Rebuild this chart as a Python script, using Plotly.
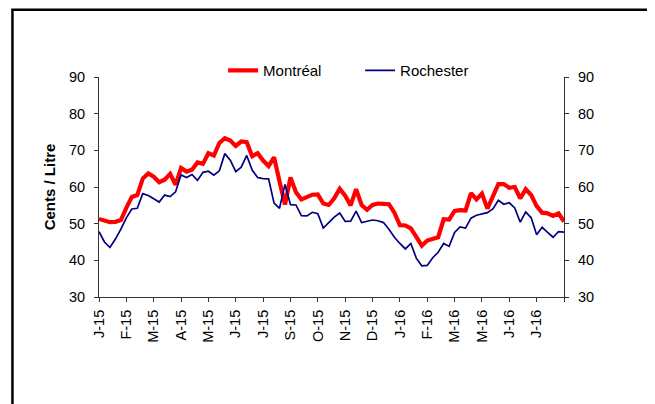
import plotly.graph_objects as go

# Weekly average retail prices (cents / litre), Jan 2015 - Aug 2016
montreal = [51.3, 50.8, 50.4, 50.5, 51.0, 54.3, 57.3, 57.8, 62.3, 63.7,
            62.8, 61.3, 62.0, 63.6, 60.6, 65.2, 64.2, 64.7, 66.7, 66.3,
            69.2, 68.6, 72.0, 73.3, 72.7, 71.2, 72.4, 72.2, 68.4, 69.2,
            67.2, 65.7, 68.1, 61.5, 55.2, 62.6, 58.6, 56.6, 57.2, 57.9,
            58.0, 55.5, 55.1, 56.9, 59.5, 57.6, 55.0, 59.4, 55.1, 53.8,
            55.1, 55.5, 55.4, 55.3, 53.0, 49.6, 49.5, 48.7, 46.4, 44.0,
            45.4, 45.8, 46.3, 51.2, 51.1, 53.5, 53.7, 53.6, 58.3, 56.6,
            58.2, 54.1, 57.5, 60.8, 60.8, 59.8, 60.0, 56.9, 59.4, 57.8,
            54.8, 53.0, 52.8, 52.1, 52.8, 50.6]

rochester = [47.8, 45.0, 43.5, 45.8, 48.5, 51.6, 54.0, 54.2, 58.2, 57.7,
             56.8, 55.9, 57.8, 57.4, 58.7, 63.3, 62.6, 63.4, 61.8, 64.0,
             64.3, 63.2, 64.4, 69.1, 67.3, 64.2, 65.4, 68.6, 64.6, 62.6,
             62.3, 62.2, 55.6, 54.2, 60.7, 55.2, 55.1, 52.2, 52.1, 53.1,
             52.7, 48.8, 50.3, 51.8, 52.9, 50.6, 50.7, 53.4, 50.3, 50.7,
             51.0, 50.8, 50.3, 48.5, 46.3, 44.6, 43.1, 44.6, 40.6, 38.5,
             38.6, 40.7, 42.2, 44.6, 43.8, 47.6, 49.1, 48.8, 51.5, 52.3,
             52.7, 53.0, 54.0, 56.4, 55.3, 55.7, 54.3, 50.4, 53.2, 51.6,
             47.0, 49.0, 47.6, 46.3, 47.8, 47.7]

tick_labels = ["J-15", "F-15", "M-15", "A-15", "M-15", "J-15", "J-15", "S-15",
               "O-15", "N-15", "D-15", "J-16", "F-16", "M-16", "M-16", "J-16",
               "J-16", ""]

weeks = list(range(len(montreal)))
tick_step = 5
tick_vals = [i * tick_step for i in range(len(tick_labels))]

font_family = "Liberation Sans, Arial, sans-serif"
axis_col = "#333333"

fig = go.Figure()
fig.add_trace(go.Scatter(x=weeks, y=montreal, name="Montréal", mode="lines",
                         line=dict(color="#FF0000", width=4.2)))
fig.add_trace(go.Scatter(x=weeks, y=rochester, name="Rochester", mode="lines",
                         line=dict(color="#000080", width=1.7)))
fig.add_trace(go.Scatter(x=weeks, y=rochester, yaxis="y2", mode="lines",
                         line=dict(width=0, color="rgba(0,0,0,0)"),
                         showlegend=False, hoverinfo="skip"))

# page has an 8px body margin; figure coordinates are page - 8
W, H = 655, 396
L, R, T, B = 91, 99.3, 69.3, 106.7
pw = W - L - R
ph = H - T - B

fig.update_layout(
    width=W, height=H,
    margin=dict(l=L, r=R, t=T, b=B, pad=0),
    paper_bgcolor="white", plot_bgcolor="white",
    font=dict(family=font_family, size=14, color="black"),
    showlegend=True,
    legend=dict(orientation="h", x=(215 - L) / pw, xanchor="left",
                y=1 + (T - 63) / ph, yanchor="middle",
                font=dict(size=15), bgcolor="rgba(0,0,0,0)",
                entrywidth=92, entrywidthmode="pixels"),
    xaxis=dict(range=[0, tick_vals[-1]], tickmode="array", tickvals=tick_vals,
               ticktext=tick_labels, tickangle=-90, ticks="outside", ticklen=4,
               tickcolor=axis_col, showline=True, linecolor=axis_col, linewidth=1,
               showgrid=False, zeroline=False, tickfont=dict(size=14.5),
               ticklabelstandoff=2),
    yaxis=dict(range=[30, 90], dtick=10, ticks="outside", ticklen=4,
               tickcolor=axis_col, showline=True, linecolor=axis_col, linewidth=1,
               showgrid=False, zeroline=False, tickfont=dict(size=14.5),
               ticklabelstandoff=6,
               title=dict(text="<b>Cents / Litre</b>", font=dict(size=15), standoff=9)),
    yaxis2=dict(range=[30, 90], dtick=10, overlaying="y", side="right",
                ticks="outside", ticklen=4, tickcolor=axis_col, showline=True,
                linecolor=axis_col, linewidth=1, showgrid=False, zeroline=False,
                tickfont=dict(size=14.5), ticklabelstandoff=6),
    shapes=[dict(type="rect", xref="paper", yref="paper",
                 x0=(4.5 - L) / pw, x1=(644.5 - L) / pw,
                 y0=(H - B - 410) / ph, y1=(H - B - 2) / ph,
                 line=dict(color="black", width=2.5), layer="below")],
)

fig.write_html("out.html")
